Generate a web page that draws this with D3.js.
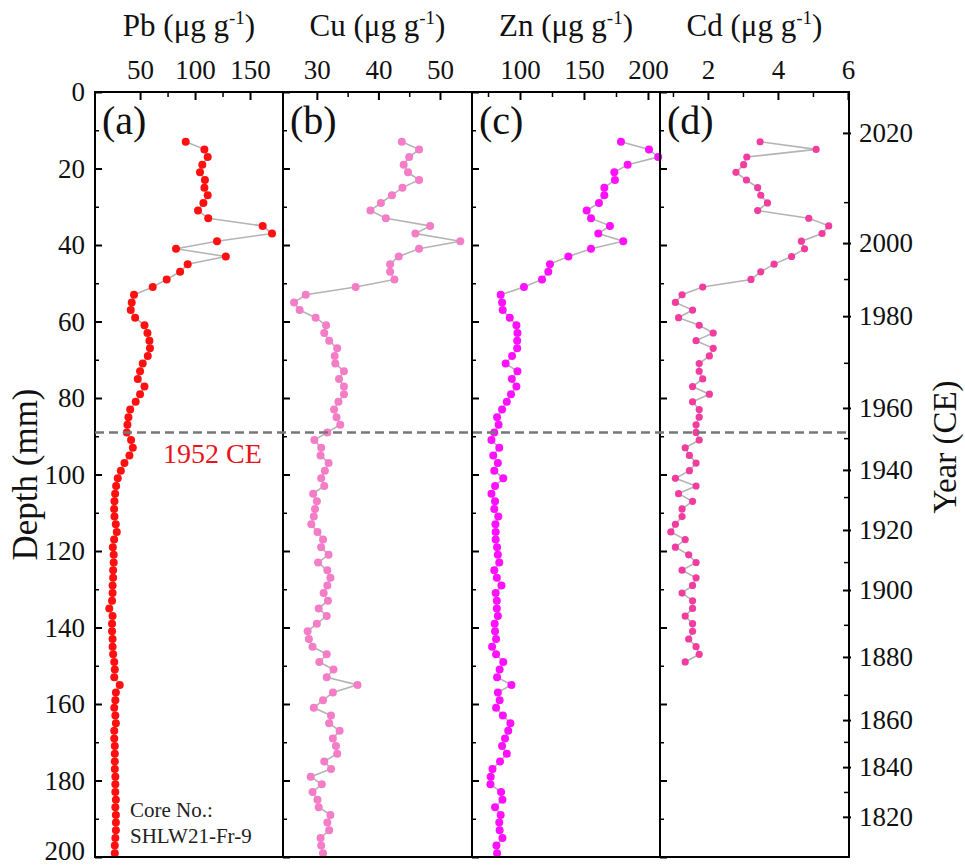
<!DOCTYPE html>
<html><head><meta charset="utf-8">
<script src="https://cdn.jsdelivr.net/npm/d3@7"></script>
<style>body{margin:0;background:#fff}svg{display:block}text{font-family:"Liberation Serif","Times New Roman",serif}</style>
</head><body><svg id="c" width="965" height="868"></svg>
<script>
// ---------- data ----------
const depthPb = [13,15,17,19,21,23,25,27,29,31,33,35,37,39,41,43,45,47,49,51,53,55,57,59,61,63,65,67,69,71,73,75,77,79,81,83,85,87,89,91,93,95,97,99,101,103,105,107,109,111,113,115,117,119,121,123,125,127,129,131,133,135,137,139,141,143,145,147,149,151,153,155,157,159,161,163,165,167,169,171,173,175,177,179,181,183,185,187,189,191,193,195,197,199];
const pbValues = [91.5,108.5,111.5,106.6,104.5,109,108.5,111.5,107.6,102.7,112,161.5,170,120,82.7,128,93.3,86.4,74.2,61.5,44.5,42.4,41.5,45.5,54,56.7,58.5,59,57,52.4,50,47.9,54,50,46,41,39.4,38.5,37.9,41.8,43.4,40.3,35.8,32.5,29.7,28.2,27.3,26.7,26.4,26.7,27.9,28.8,26.4,25.2,26,26,25.5,25.5,25,25,24.5,22,25,24.5,24.5,25,25,25.5,26.5,27,26.5,31.5,28,27.5,26.5,27.5,28,26.5,26.5,27,27,27,27,27.5,27.5,27.5,28,27.5,28,28,28,27.5,27,27];
const depthCu = depthPb;
const cuValues = [43.8,46.6,45,44.1,44.8,46.6,43.9,42.2,40.4,38.7,41.2,48.4,46,53.3,46.6,43.3,41.9,41.9,42.6,36.3,28.2,26.3,27.2,29.8,31.5,31.2,32,33.3,32.9,33,34.4,33.6,34.4,34.4,33.5,32.8,33.2,33.8,31.7,29.6,30.7,30.6,31.9,31.3,30.7,31.2,29.4,30,29.7,29.5,29.1,30.1,31,30.7,31.9,30.2,31.7,32.2,31.7,31.1,31.8,30.3,31.6,30,28.5,28.7,29.3,31.6,30.4,32.7,31.6,36.6,32.6,31,29.5,32.3,32,33.7,32.6,33.1,33.3,31.2,32.3,29,30.8,29.3,30.1,30.3,32.2,31.7,32,30.6,30.7,31];
const depthZn = depthPb;
const znValues = [178.9,200.8,208,184.1,173.7,174.2,165.9,165.9,161.7,152.1,155.5,170.3,161.2,180.7,155.5,137.8,123.4,122.1,117.2,103.1,84.9,86,86.5,92,97.2,98,97.8,97.8,93.8,88.8,98,93.6,97.2,93,89.7,86,82.1,83.3,79.9,77.7,83.8,79.1,82.7,79.9,86.9,80.5,77.7,80.5,79.9,83,80.8,81,81,82.1,82.7,83.8,79.9,81.9,85.5,81,81.9,81.9,82.7,80.2,80.5,81.3,78.2,81.3,86.9,84.1,82.1,93.3,82.7,84.1,81.3,86.6,92.5,90.8,88.3,86,89.7,84.4,78.5,77.1,76.9,85.2,86.3,80.5,84.9,83.8,84.1,86.3,81.6,82.1];
const depthCd = [13,15,17,19,21,23,25,27,29,31,33,35,37,39,41,43,45,47,49,51,53,55,57,59,61,63,65,67,69,71,73,75,77,79,81,83,85,87,89,91,93,95,97,99,101,103,105,107,109,111,113,115,117,119,121,123,125,127,129,131,133,135,137,139,141,143,145,147,149];
const cdValues = [3.49,5.09,3.11,3.02,2.8,3.1,3.42,3.51,3.7,3.42,4.88,5.45,5.26,4.67,4.76,4.39,3.89,3.51,3.23,1.85,1.26,1.07,1.56,1.16,1.75,2.15,1.66,2.15,2.04,1.75,1.75,1.85,1.56,2.04,1.56,1.75,1.75,1.66,1.66,1.75,1.35,1.47,1.66,1.47,1.07,1.66,1.16,1.56,1.26,1.26,1.07,0.94,1.35,1.07,1.45,1.66,1.26,1.66,1.56,1.26,1.56,1.56,1.35,1.56,1.56,1.45,1.66,1.75,1.35];

const elements = ["Pb","Cu","Zn","Cd"];
const panelLetters = ["(a)","(b)","(c)","(d)"];
const pbTicks = [50,100,150], pbMinor = [75,125];
const cuTicks = [30,40,50], cuMinor = [35,45];
const znTicks = [100,150,200], znMinor = [75,125,175];
const cdTicks = [2,4,6], cdMinor = [1,3,5];
const depthTicks = [0,20,40,60,80,100,120,140,160,180,200];
const depthMinor = [10,30,50,70,90,110,130,150,170,190];
const yearLabels = [2020,2000,1980,1960,1940,1920,1900,1880,1860,1840,1820];
const yearDepths = [10.7,39.5,58.6,82.6,98.8,114.5,130.2,147.7,164.2,176.5,189.5];
const yearMinorLabels = [2010,1990,1970,1950,1930,1910,1890,1870,1850,1830];
const yearMinorDepths = [28.8,48.9,70.8,90.5,105.9,122.9,139.3,157.6,169.9,183.0];
const markerDepth = 89, markerText = "1952 CE";
const coreText = ["Core No.:","SHLW21-Fr-9"];

// ---------- layout ----------
const svg = d3.select("#c");
const yTop = 92, yBot = 857;
const edges = [95,283,472,660,849];
const domains = [[9,180],[24.5,55.2],[62.5,209.4],[0.63,6.03]];
const colors = ["#ff1010","#f57cc6","#ff10ff","#f23c9f"];
const radii = [4,4,4,3.6];
const y = d3.scaleLinear().domain([0,200]).range([yTop,yBot]);
const series = [[depthPb,pbValues],[depthCu,cuValues],[depthZn,znValues],[depthCd,cdValues]];
const majors = [pbTicks,cuTicks,znTicks,cdTicks];
const minors = [pbMinor,cuMinor,znMinor,cdMinor];
const font = 27;
const SERIF = "Liberation Serif";

series.forEach((s,i)=>{
  const x = d3.scaleLinear().domain(domains[i]).range([edges[i],edges[i+1]]);
  const g = svg.append("g");
  g.append("g").attr("transform",`translate(0,${yTop})`)
    .call(d3.axisBottom(x).tickValues(majors[i]).tickSize(8).tickFormat(""))
    .call(a=>a.select(".domain").remove())
    .call(a=>a.selectAll("line").attr("stroke","#000").attr("stroke-width",2));
  g.append("g").attr("transform",`translate(0,${yTop})`)
    .call(d3.axisBottom(x).tickValues(minors[i]).tickSize(5).tickFormat(""))
    .call(a=>a.select(".domain").remove())
    .call(a=>a.selectAll("line").attr("stroke","#000").attr("stroke-width",1.5));
  g.append("g").attr("transform",`translate(0,${yTop})`)
    .call(d3.axisTop(x).tickValues(majors[i]).tickSize(0).tickPadding(13).tickFormat(d=>String(d)))
    .call(a=>a.select(".domain").remove())
    .call(a=>a.selectAll("text").attr("font-size",font).attr("font-family",SERIF).attr("fill","#111"));
  g.append("g").attr("transform",`translate(${edges[i]},0)`)
    .call(d3.axisRight(y).tickValues(depthTicks).tickSize(7).tickFormat(""))
    .call(a=>a.select(".domain").remove())
    .call(a=>a.selectAll("line").attr("stroke","#000").attr("stroke-width",2));
  g.append("g").attr("transform",`translate(${edges[i]},0)`)
    .call(d3.axisRight(y).tickValues(depthMinor).tickSize(4).tickFormat(""))
    .call(a=>a.select(".domain").remove())
    .call(a=>a.selectAll("line").attr("stroke","#000").attr("stroke-width",1.5));
  const cx = (edges[i]+edges[i+1])/2;
  const t = g.append("text").attr("x",cx).attr("y",36).attr("text-anchor","middle")
    .attr("font-size",31).attr("font-family",SERIF).attr("fill","#111");
  t.append("tspan").text(elements[i]+" (\u03bcg g");
  t.append("tspan").attr("dy",-12).attr("font-size",19).text("-1");
  t.append("tspan").attr("dy",12).text(")");
  g.append("text").attr("x",edges[i]+7).attr("y",134).attr("font-size",40).attr("font-family",SERIF).attr("fill","#111").text(panelLetters[i]);
  const pts = s[0].map((d,k)=>[x(s[1][k]),y(d)]);
  g.append("path").attr("d",d3.line()(pts)).attr("fill","none").attr("stroke","#b4b4b4").attr("stroke-width",1.6);
  g.selectAll("circle").data(pts).join("circle").attr("cx",d=>d[0]).attr("cy",d=>d[1])
    .attr("r",radii[i]).attr("fill",colors[i]);
});

svg.append("g").attr("transform",`translate(${edges[0]},0)`)
  .call(d3.axisLeft(y).tickValues(depthTicks).tickSize(0).tickPadding(10))
  .call(a=>a.select(".domain").remove())
  .call(a=>a.selectAll("text").attr("font-size",font).attr("font-family",SERIF).attr("fill","#111")
    .attr("dy",(d)=>d===200?"0.1em":"0.32em"));

svg.append("g").attr("transform",`translate(${edges[4]+2},0)`)
  .call(d3.axisLeft(y).tickValues(yearDepths).tickSize(8).tickFormat(""))
  .call(a=>a.select(".domain").remove())
  .call(a=>a.selectAll("line").attr("stroke","#000").attr("stroke-width",2));
svg.append("g").attr("transform",`translate(${edges[4]+1},0)`)
  .call(d3.axisLeft(y).tickValues(yearMinorDepths).tickSize(6).tickFormat(""))
  .call(a=>a.select(".domain").remove())
  .call(a=>a.selectAll("line").attr("stroke","#000").attr("stroke-width",1.5));
svg.append("g").attr("transform",`translate(${edges[4]},0)`)
  .call(d3.axisRight(y).tickValues(yearDepths).tickSize(0).tickPadding(10).tickFormat((d,k)=>yearLabels[k]))
  .call(a=>a.select(".domain").remove())
  .call(a=>a.selectAll("text").attr("font-size",font).attr("font-family",SERIF).attr("fill","#111"));

svg.append("rect").attr("x",edges[0]).attr("y",yTop).attr("width",edges[4]-edges[0]).attr("height",yBot-yTop)
  .attr("fill","none").attr("stroke","#000").attr("stroke-width",2);
edges.slice(1,4).forEach(e=>svg.append("line").attr("x1",e).attr("x2",e).attr("y1",yTop).attr("y2",yBot)
  .attr("stroke","#000").attr("stroke-width",2));

svg.append("line").attr("x1",edges[0]).attr("x2",edges[4]).attr("y1",y(markerDepth)).attr("y2",y(markerDepth))
  .attr("stroke","#777").attr("stroke-width",2.5).attr("stroke-dasharray","9,5");
svg.append("text").attr("x",163).attr("y",y(markerDepth)+31).attr("font-size",28).attr("font-family",SERIF).attr("fill","#e8141c").text(markerText);

svg.append("text").attr("x",130).attr("y",817).attr("font-size",21).attr("font-family",SERIF).attr("fill","#222").text(coreText[0]);
svg.append("text").attr("x",130).attr("y",843).attr("font-size",21).attr("font-family",SERIF).attr("fill","#222").text(coreText[1]);

svg.append("text").attr("transform",`translate(37,${(yTop+yBot)/2}) rotate(-90)`).attr("text-anchor","middle")
  .attr("font-size",35).attr("font-family",SERIF).attr("fill","#111").text("Depth (mm)");
svg.append("text").attr("transform",`translate(956,447) rotate(-90)`).attr("text-anchor","middle")
  .attr("font-size",33).attr("font-family",SERIF).attr("fill","#111").text("Year (CE)");
</script></body></html>
